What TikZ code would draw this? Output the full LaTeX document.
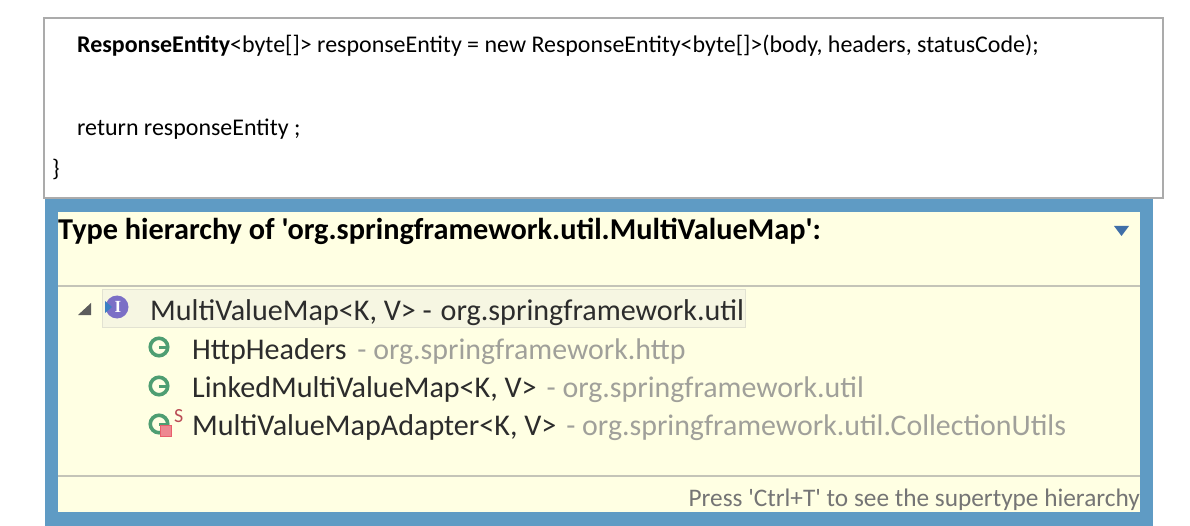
\documentclass[tikz,border=0pt]{standalone}
\usepackage{fontspec}
\newfontfamily\plainfont{Carlito}
\newfontfamily\iconfont{Liberation Serif}
\usetikzlibrary{calc}
\definecolor{frameblue}{HTML}{5F9BC4}
\definecolor{paneyellow}{HTML}{FFFFE3}
\definecolor{boxgray}{HTML}{ABABAB}
\definecolor{seprule}{HTML}{C4C4B8}
\definecolor{seltint}{HTML}{F6F6E2}
\definecolor{selrule}{HTML}{E2E2D2}
\definecolor{qual}{HTML}{A0A09A}
\definecolor{darktext}{HTML}{2C2C2C}
\definecolor{iconviolet}{HTML}{7B6FC6}
\definecolor{icongreen}{HTML}{4E9E72}
\definecolor{iconred}{HTML}{E8606C}
\definecolor{iconblue}{HTML}{3F6FA8}
\definecolor{iconmark}{HTML}{3A7FC4}
\definecolor{treegray}{HTML}{5C5C5C}
\tikzset{
  code/.style={anchor=base west,inner sep=0pt,font=\plainfont\fontsize{23.95}{26}\selectfont,text=black},
  tree/.style={anchor=base west,inner sep=0pt,font=\plainfont\fontsize{30.1}{32}\selectfont,text=darktext},
  classicon/.style={circle,draw=icongreen,line width=3.6pt,minimum size=17.5pt,inner sep=0pt},
}
\newcommand{\qualtext}[1]{\textcolor{qual}{\fontsize{29.9}{32}\selectfont #1}}
\begin{document}
\begin{tikzpicture}[x=1pt,y=-1pt]
\useasboundingbox (0,0) rectangle (1190,526);
\fill[white] (0,0) rectangle (1190,526);
% code box
\draw[boxgray,line width=2.6pt,fill=white] (44,18) rectangle (1163,198);
\node[code] (l1) at (77,53) {\textbf{ResponseEntity}<byte[]> responseEntity = new ResponseEntity<byte[]>(body, headers, statusCode);};
\node[code] (l2) at (77,136) {return responseEntity ;};
\node[code] (l3) at (52,177) {\}};
% hierarchy pane
\fill[frameblue] (45,199) rectangle (1153,526);
\fill[paneyellow] (58,212) rectangle (1140,512);
\draw[seprule,line width=1.4pt] (58,286) -- (1140,286);
\draw[seprule,line width=1.4pt] (58,476) -- (1140,476);
\node[anchor=base west,inner sep=0pt,font=\plainfont\fontsize{30.3}{32}\selectfont\bfseries,text=black] (title) at (58,240) {Type hierarchy of 'org.springframework.util.MultiValueMap':};
\fill[iconblue] (1114,226) -- (1129,226) -- (1121.5,236) -- cycle;
% selected row
\draw[selrule,fill=seltint,line width=1pt] (102,290) rectangle (745,327);
\fill[treegray] (78,315) -- (91,315) -- (91,303) -- cycle;
% interface icon
\node[circle,fill=iconviolet,minimum size=23pt,inner sep=0pt] (ifc) at (117,307) {};
\node[inner sep=0pt,font=\iconfont\fontsize{17}{17}\selectfont\bfseries,text=white] (ifcI) at (118,307) {I};
\fill[iconmark] (105,301) -- (112,307) -- (105,313) -- cycle;
\node[tree] (t0) at (150,320) {MultiValueMap<K, V> -\hspace{2pt} org.springframework.util};
\node[classicon] (c1) at (159,347) {};
\fill[icongreen] (159,345.5) rectangle (168,348.5);
\node[tree] (t1) at (192,359) {HttpHeaders\hspace{4pt} \qualtext{- org.springframework.http}};
\node[classicon] (c2) at (159,386) {};
\fill[icongreen] (159,384.5) rectangle (168,387.5);
\node[tree] (t2) at (192,397) {LinkedMultiValueMap<K, V>\hspace{3pt} \qualtext{- org.springframework.util}};
\node[classicon] (c3) at (159,424) {};
\fill[icongreen] (159,422.5) rectangle (168,425.5);
\draw[iconred,fill=iconred!75!white,line width=1pt] (160,425) rectangle (171,436);
\node[anchor=base west,inner sep=0pt,font=\plainfont\fontsize{20}{20}\selectfont,text=iconred!80!black] (s) at (174,422) {S};
\node[tree] (t3) at (192,435) {MultiValueMapAdapter<K, V>\hspace{3pt} \qualtext{- org.springframework.util.CollectionUtils}};
\node[anchor=base east,inner sep=0pt,font=\plainfont\fontsize{25.3}{27}\selectfont,text=treegray!85!white] (press) at (1140,506) {Press 'Ctrl+T' to see the supertype hierarchy};
\end{tikzpicture}
\end{document}
